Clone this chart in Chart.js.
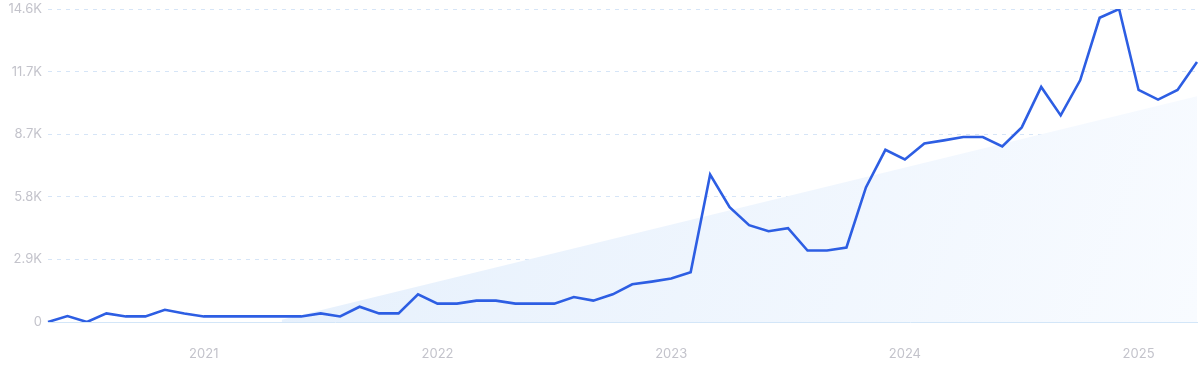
<!DOCTYPE html>
<html>
<head>
<meta charset="utf-8">
<title>Trend</title>
<style>
  html, body { margin: 0; padding: 0; background: #fff; }
  .chart-wrap { position: relative; width: 1200px; height: 371px; }
</style>
</head>
<body>
<div class="chart-wrap">
  <canvas id="trendChart"></canvas>
</div>

<script src="https://cdn.jsdelivr.net/npm/chart.js"></script>
<script>
  // Monthly points, May 2020 .. Apr 2025
  const months = [
    '2020-05','2020-06','2020-07','2020-08','2020-09','2020-10','2020-11','2020-12',
    '2021-01','2021-02','2021-03','2021-04','2021-05','2021-06','2021-07','2021-08','2021-09','2021-10','2021-11','2021-12',
    '2022-01','2022-02','2022-03','2022-04','2022-05','2022-06','2022-07','2022-08','2022-09','2022-10','2022-11','2022-12',
    '2023-01','2023-02','2023-03','2023-04','2023-05','2023-06','2023-07','2023-08','2023-09','2023-10','2023-11','2023-12',
    '2024-01','2024-02','2024-03','2024-04','2024-05','2024-06','2024-07','2024-08','2024-09','2024-10','2024-11','2024-12',
    '2025-01','2025-02','2025-03','2025-04'
  ];

  const searches = [
    0, 280, 0, 400, 260, 260, 570, 400,
    260, 260, 260, 260, 260, 260, 400, 260, 710, 400, 400, 1290,
    855, 855, 995, 995, 855, 855, 855, 1166, 995, 1290, 1757, 1882,
    2022, 2317, 6870, 5350, 4510, 4230, 4370, 3330, 3330, 3470, 6270, 8020,
    7570, 8320, 8460, 8615, 8615, 8180, 9065, 10950, 9625, 11260, 14170, 14580,
    10810, 10360, 10810, 12110
  ];

  const trendStart = { index: 12, value: 110 };
  const trendEnd = { index: 59, value: 10510 };

  const yTickLabels = ['0', '2.9K', '5.8K', '8.7K', '11.7K', '14.6K'];
  const yMax = 14580;
  const yStep = 2916;

  const trend = months.map(() => null);
  trend[trendStart.index] = trendStart.value;
  trend[trendEnd.index] = trendEnd.value;

  function trendFill(context) {
    const area = context.chart.chartArea;
    if (!area) return 'rgba(230, 240, 251, 1)';
    const g = context.chart.ctx.createLinearGradient(area.left + 200, area.top, area.right, area.bottom);
    g.addColorStop(0, 'rgba(228, 239, 252, 1)');
    g.addColorStop(1, 'rgba(248, 251, 255, 1)');
    return g;
  }

  const ctx = document.getElementById('trendChart').getContext('2d');

  new Chart(ctx, {
    type: 'line',
    data: {
      labels: months,
      datasets: [
        {
          label: 'Searches',
          data: searches,
          borderColor: '#2d5ee3',
          borderWidth: 2.6,
          pointRadius: 0,
          tension: 0,
          fill: false,
          order: 0
        },
        {
          label: 'Trend',
          data: trend,
          spanGaps: true,
          borderWidth: 0,
          borderColor: 'rgba(0,0,0,0)',
          backgroundColor: trendFill,
          pointRadius: 0,
          fill: 'origin',
          order: 1
        }
      ]
    },
    options: {
      responsive: true,
      maintainAspectRatio: false,
      animation: false,
      layout: { padding: { top: 9, right: 3, left: 0, bottom: 0 } },
      plugins: {
        legend: { display: false },
        tooltip: { enabled: false }
      },
      scales: {
        x: {
          offset: false,
          grid: { display: true, color: 'rgba(0,0,0,0)', drawTicks: true, tickLength: 22 },
          border: { display: true, color: '#d3e6f8', width: 1 },
          afterFit: function(scale) { scale.height = 49; },
          ticks: {
            autoSkip: false,
            maxRotation: 0,
            padding: 2,
            color: '#c3c3cb',
            font: { family: 'Inter', size: 13 },
            callback: function(value) {
              const m = months[value];
              return m.endsWith('-01') ? m.slice(0, 4) : '';
            }
          }
        },
        y: {
          min: 0,
          max: yMax,
          afterFit: function(scale) {
            scale.width = 48;
            scale.paddingTop = 0;
            scale.paddingBottom = 0;
          },
          grid: {
            drawTicks: false,
            color: function(c) { return c.tick && c.tick.value === 0 ? 'rgba(0,0,0,0)' : '#d6e5f7'; },
            lineWidth: 1
          },
          border: { display: false, dash: [4, 5] },
          ticks: {
            stepSize: yStep,
            padding: 6,
            color: '#c3c3cb',
            font: { family: 'Inter', size: 13 },
            callback: function(value, i) { return yTickLabels[i]; }
          }
        }
      }
    }
  });
</script>
</body>
</html>
